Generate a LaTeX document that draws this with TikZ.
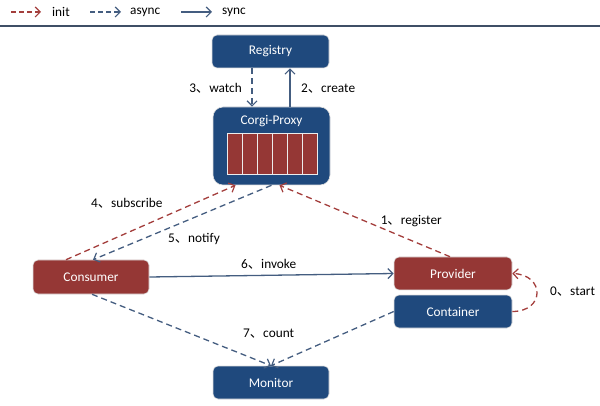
\documentclass[tikz,border=0pt]{standalone}
\usepackage{fontspec}
\setmainfont{Carlito}
\newfontfamily\cjk{Noto Sans CJK SC}
\usetikzlibrary{arrows.meta}
\definecolor{boxblue}{HTML}{1F497D}
\definecolor{boxred}{HTML}{953735}
\definecolor{linered}{HTML}{A33E3C}
\definecolor{lineblue}{HTML}{445D80}
\definecolor{sepline}{HTML}{3F4F66}
\newcommand{\dun}{{\cjk 、}}
\begin{document}
\begin{tikzpicture}[x=1pt,y=-1pt,
  font=\fontsize{13.3}{16}\selectfont,
  box/.style={rounded corners=5pt, draw=white!75!gray, line width=0.6pt, text=white,
    minimum width=117pt, minimum height=33pt, inner sep=0pt},
  bluebox/.style={box, fill=boxblue},
  redbox/.style={box, fill=boxred},
  tipv/.style={-{Straight Barb[length=5pt,width=10pt,line width=1.2pt]}},
  init/.style={draw=linered, dash pattern=on 6pt off 4pt, line width=1.3pt, tipv},
  async/.style={draw=lineblue, dash pattern=on 6pt off 4pt, line width=1.3pt, tipv},
  sync/.style={draw=lineblue, line width=1.3pt, tipv},
  lbl/.style={text=black, inner sep=0pt},
  cell/.style={draw=white!85!gray, line width=0.7pt, fill=boxred, minimum width=15pt,
    minimum height=41pt, inner sep=0pt}]
\useasboundingbox (0,0) rectangle (600,406);

% legend
\coordinate (l1a) at (11,12); \coordinate (l1b) at (41,12);
\coordinate (l2a) at (90,12); \coordinate (l2b) at (121,12);
\coordinate (l3a) at (181,12); \coordinate (l3b) at (212,12);
\draw[init, dash pattern=on 5pt off 3pt] (l1a) -- (l1b);
\draw[async, dash pattern=on 5pt off 3pt] (l2a) -- (l2b);
\draw[sync] (l3a) -- (l3b);
\node[lbl, anchor=west] (tinit) at (52,12) {init};
\node[lbl, anchor=west] (tasync) at (130,12) {async};
\node[lbl, anchor=west] (tsync) at (222,12) {sync};
\coordinate (sepa) at (0,26); \coordinate (sepb) at (600,26);
\draw[sepline, line width=2pt] (sepa) -- (sepb);

% nodes
\node[bluebox] (registry) at (270.5,51.5) {Registry};
\node[box, fill=boxblue, rounded corners=10pt, minimum width=117pt, minimum height=78pt] (proxy) at (271.5,146) {};
\node[text=white, inner sep=0pt] (proxylbl) at (271.5,121) {Corgi-Proxy};
\foreach \i in {1,...,6} {
  \node[cell] (cell\i) at ({219.5+15*\i},153.5) {};
}
\node[redbox, minimum width=116pt, minimum height=34pt] (consumer) at (91,277) {Consumer};
\node[redbox, minimum width=118pt] (provider) at (453,273.5) {Provider};
\node[bluebox, minimum width=118pt] (container) at (453,311.5) {Container};
\node[bluebox, minimum width=116pt] (monitor) at (271,382.5) {Monitor};

% connectors
\draw[async] ([xshift=-18.5pt]registry.south) -- ([xshift=-19.5pt]proxy.north);
\draw[sync] ([xshift=18.5pt]proxy.north) -- ([xshift=19.5pt]registry.south);
\draw[init] ([xshift=-25pt]consumer.north) -- ([xshift=-36pt]proxy.south);
\draw[async] ([xshift=0pt]proxy.south) -- ([xshift=2pt]consumer.north);
\draw[init] ([xshift=-3pt]provider.north) -- ([xshift=8pt]proxy.south);
\draw[sync] (consumer.east) -- (provider.west);
\draw[async] ([xshift=1pt]consumer.south) -- (monitor.north);
\draw[async] (container.west) -- (monitor.north);
\draw[init] (container.east) .. controls (545,311.5) and (545,275) .. (provider.east);

% labels
\node[lbl, anchor=east] (lwatch) at (242,88) {3\dun watch};
\node[lbl, anchor=west] (lcreate) at (301,89) {2\dun create};
\node[lbl, anchor=west] (lsub) at (91,203) {4\dun subscribe};
\node[lbl, anchor=west] (lnotify) at (168,239) {5\dun notify};
\node[lbl, anchor=east] (lreg) at (442,221) {1\dun register};
\node[lbl, anchor=west] (linvoke) at (241,264) {6\dun invoke};
\node[lbl, anchor=west] (lcount) at (243,334) {7\dun count};
\node[lbl, anchor=west] (lstart) at (550,292) {0\dun start};
\end{tikzpicture}
\end{document}
